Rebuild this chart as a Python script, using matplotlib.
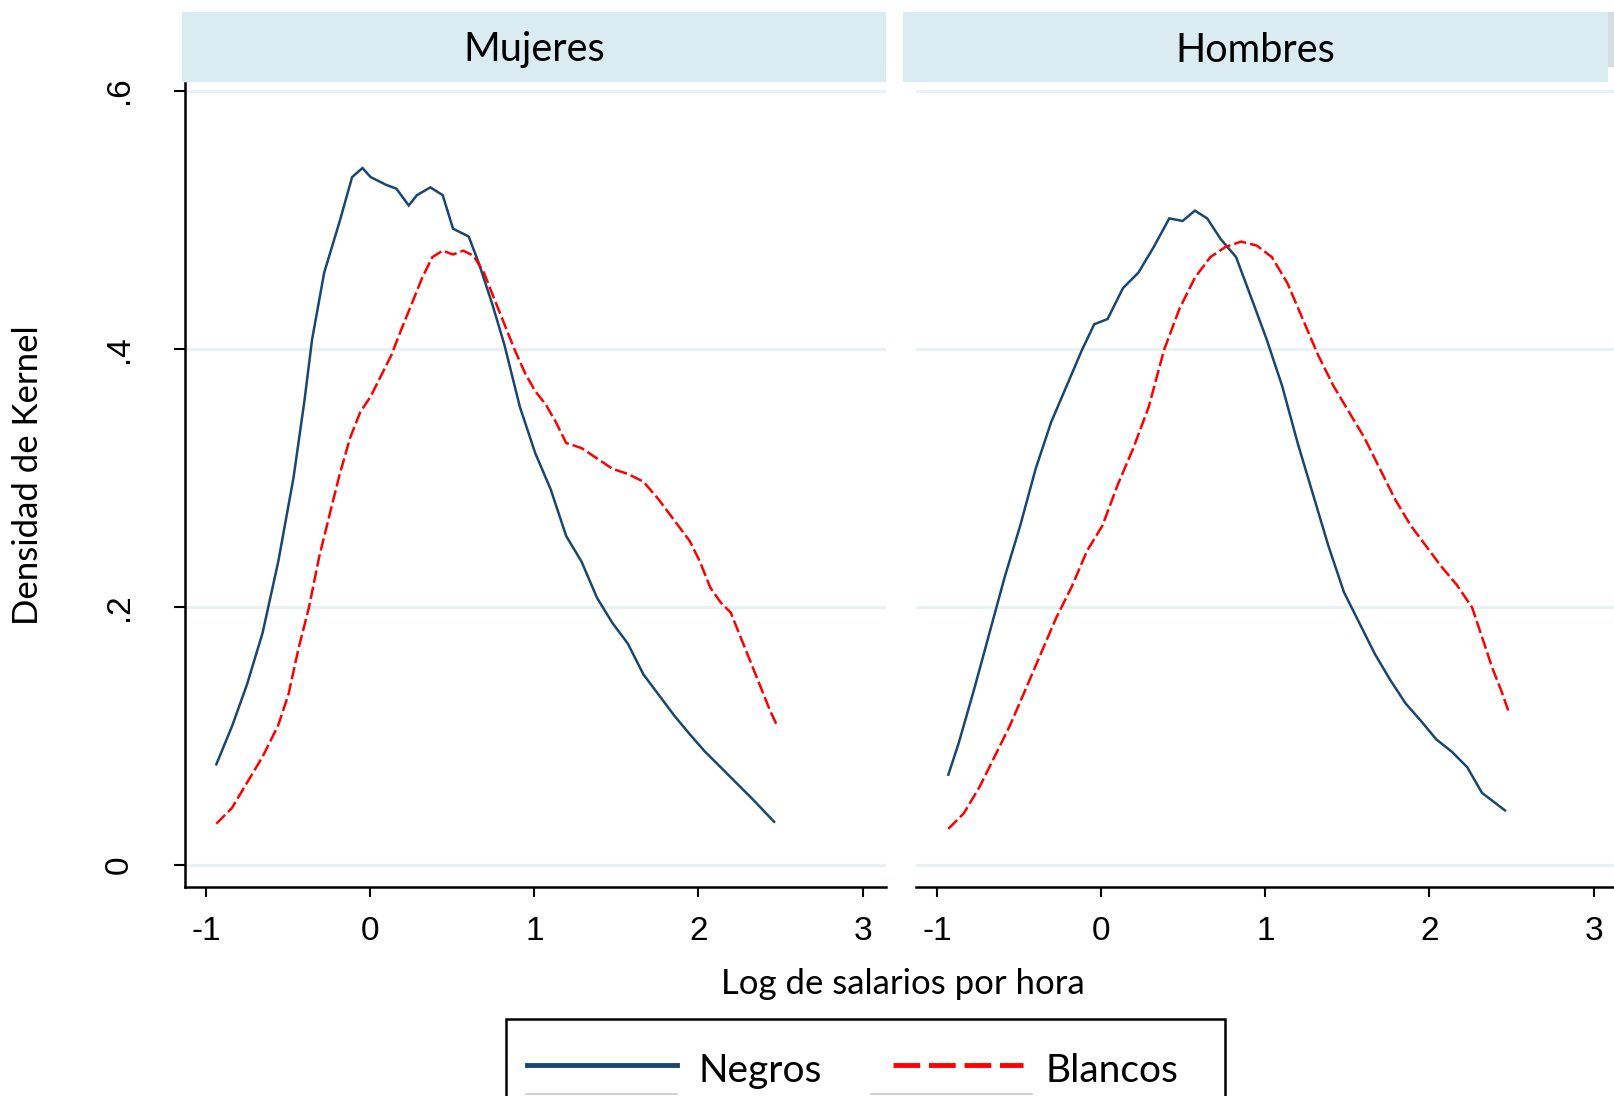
import matplotlib
matplotlib.use("Agg")
import matplotlib.pyplot as plt
from matplotlib.lines import Line2D
from matplotlib.patches import Rectangle
from matplotlib.legend_handler import HandlerLine2D

W, H = 1614, 1096

panels = ["Mujeres", "Hombres"]
series = ["Negros", "Blancos"]
x_ticks = [-1, 0, 1, 2, 3]
x_tick_labels = ["-1", "0", "1", "2", "3"]
y_ticks = [0, 0.2, 0.4, 0.6]
y_tick_labels = ["0", ".2", ".4", ".6"]

# Mujeres - Negros
muj_neg_x = [-0.937, -0.84, -0.75, -0.655, -0.56, -0.467, -0.40, -0.354, -0.28, -0.185,
             -0.11, -0.047, 0.003, 0.097, 0.16, 0.235, 0.285, 0.367, 0.442, 0.505, 0.60,
             0.66, 0.743, 0.818, 0.912, 1.006, 1.10, 1.194, 1.288, 1.382, 1.476, 1.57,
             1.665, 1.759, 1.853, 1.947, 2.04, 2.135, 2.229, 2.323, 2.461]
muj_neg_y = [0.078, 0.108, 0.14, 0.18, 0.235, 0.30, 0.36, 0.407, 0.459, 0.499,
             0.533, 0.540, 0.533, 0.527, 0.524, 0.511, 0.519, 0.525, 0.519, 0.493, 0.487,
             0.467, 0.435, 0.403, 0.355, 0.319, 0.291, 0.255, 0.235, 0.207, 0.1875, 0.1715,
             0.1476, 0.1317, 0.1157, 0.1013, 0.0878, 0.0758, 0.0638, 0.0519, 0.0335]

# Mujeres - Blancos
muj_bla_x = [-0.937, -0.843, -0.749, -0.655, -0.561, -0.498, -0.436, -0.373, -0.31, -0.248,
             -0.185, -0.122, -0.06, 0.003, 0.066, 0.129, 0.19, 0.254, 0.317, 0.379, 0.442,
             0.505, 0.567, 0.63, 0.693, 0.755, 0.818, 0.881, 0.944, 1.006, 1.069, 1.132,
             1.194, 1.288, 1.382, 1.476, 1.57, 1.665, 1.759, 1.853, 1.947, 2.009, 2.072,
             2.135, 2.197, 2.26, 2.323, 2.386, 2.436, 2.48]
muj_bla_y = [0.032, 0.044, 0.064, 0.084, 0.108, 0.132, 0.168, 0.1995, 0.239, 0.271,
             0.303, 0.331, 0.351, 0.363, 0.379, 0.395, 0.415, 0.435, 0.455, 0.471, 0.476,
             0.473, 0.476, 0.472, 0.459, 0.439, 0.419, 0.399, 0.381, 0.367, 0.357, 0.343,
             0.327, 0.323, 0.315, 0.307, 0.303, 0.297, 0.283, 0.267, 0.251, 0.235, 0.215,
             0.2035, 0.1955, 0.1755, 0.1556, 0.1356, 0.1197, 0.1077]

# Hombres - Negros
hom_neg_x = [-0.931, -0.869, -0.775, -0.681, -0.587, -0.493, -0.399, -0.305, -0.211, -0.117,
             -0.042, 0.039, 0.133, 0.227, 0.321, 0.415, 0.496, 0.571, 0.646, 0.728, 0.822,
             0.916, 1.009, 1.103, 1.197, 1.291, 1.385, 1.479, 1.573, 1.667, 1.76, 1.854,
             1.948, 2.042, 2.136, 2.23, 2.32, 2.46]
hom_neg_y = [0.070, 0.094, 0.1356, 0.1795, 0.2234, 0.263, 0.307, 0.343, 0.371, 0.399,
             0.419, 0.423, 0.447, 0.459, 0.479, 0.501, 0.499, 0.507, 0.501, 0.485, 0.471,
             0.439, 0.407, 0.371, 0.327, 0.287, 0.247, 0.2114, 0.1875, 0.1636, 0.1436, 0.1253,
             0.1117, 0.0973, 0.0878, 0.0758, 0.0559, 0.0423]

# Hombres - Blancos
hom_bla_x = [-0.931, -0.837, -0.743, -0.649, -0.556, -0.462, -0.368, -0.274, -0.18, -0.086,
             0.008, 0.102, 0.196, 0.29, 0.383, 0.477, 0.571, 0.665, 0.759, 0.853, 0.947,
             1.04, 1.134, 1.228, 1.322, 1.416, 1.51, 1.604, 1.698, 1.792, 1.886, 1.98,
             2.074, 2.167, 2.26, 2.323, 2.386, 2.436, 2.48]
hom_bla_y = [0.028, 0.040, 0.060, 0.084, 0.108, 0.1356, 0.1636, 0.1915, 0.2154, 0.2434,
             0.263, 0.295, 0.323, 0.355, 0.399, 0.431, 0.455, 0.471, 0.479, 0.483, 0.480,
             0.471, 0.451, 0.423, 0.395, 0.371, 0.351, 0.331, 0.307, 0.283, 0.263, 0.247,
             0.231, 0.217, 0.1995, 0.1755, 0.1516, 0.1356, 0.1197]

NAVY = "#1a476f"
RED = "#ff0000"
GRID = "#e9f1f3"
STRIP = "#daecf2"
TEXT_FONT = ["Lato", "DejaVu Sans"]
TICK_FONT = ["Liberation Sans", "DejaVu Sans"]

fig = plt.figure(figsize=(W / 100, H / 100), dpi=100)
fig.patch.set_facecolor("white")


def fx(px):
    return px / W


def fy(py):
    return 1 - py / H


ax_top, ax_bot = 83, 887
ax_w = 701
axes = [
    fig.add_axes([fx(185), fy(ax_bot), ax_w / W, (ax_bot - ax_top) / H]),
    fig.add_axes([fx(916), fy(ax_bot), ax_w / W, (ax_bot - ax_top) / H]),
]

data = {
    "Mujeres": [(muj_neg_x, muj_neg_y), (muj_bla_x, muj_bla_y)],
    "Hombres": [(hom_neg_x, hom_neg_y), (hom_bla_x, hom_bla_y)],
}

for i, (ax, name) in enumerate(zip(axes, panels)):
    (nx, ny), (bx, by) = data[name]
    ax.plot(nx, ny, color=NAVY, lw=1.8, solid_joinstyle="miter")
    ax.plot(bx, by, color=RED, lw=1.8, dashes=(5, 1.6))
    ax.set_xlim(-1.128, 3.1426)
    ax.set_ylim(-0.01705, 0.6059)
    ax.set_yticks(y_ticks)
    ax.set_xticks(x_ticks)
    ax.set_xticklabels(x_tick_labels, fontsize=24, family=TICK_FONT)
    ax.yaxis.grid(True, color=GRID, lw=2.3)
    ax.set_axisbelow(True)
    for s in ["top", "right"]:
        ax.spines[s].set_visible(False)
    ax.spines["bottom"].set_linewidth(1.8)
    ax.spines["left"].set_linewidth(1.8)
    ax.tick_params(axis="x", length=7, width=1.5, pad=14)
    if i == 0:
        ax.set_yticklabels(y_tick_labels, fontsize=24, family=TICK_FONT,
                           rotation=90, va="center")
        ax.tick_params(axis="y", length=8, width=1.5, pad=28)
    else:
        ax.spines["left"].set_visible(False)
        ax.tick_params(axis="y", left=False, labelleft=False)

# strips
strips = [(182, 886, "Mujeres"), (903, 1608, "Hombres")]
for x0, x1, label in strips:
    fig.patches.append(Rectangle((fx(x0), fy(82)), (x1 - x0) / W, 70 / H,
                                 transform=fig.transFigure, facecolor=STRIP,
                                 edgecolor="none", zorder=0))
    fig.text(fx((x0 + x1) / 2), fy(50), label, ha="center", va="center",
             fontsize=28.5, family=TEXT_FONT)
fig.patches.append(Rectangle((fx(1608), fy(67)), 6 / W, 55 / H,
                             transform=fig.transFigure, facecolor="#d3dde3",
                             edgecolor="none", zorder=0))

fig.text(fx(903), fy(984), "Log de salarios por hora", ha="center", va="center",
         fontsize=25, family=TEXT_FONT)
fig.text(fx(28), fy(475), "Densidad de Kernel", ha="center", va="center",
         rotation=90, fontsize=25, family=TEXT_FONT)


class ShiftedShortHandler(HandlerLine2D):
    """Draws the key shorter and right-aligned within its slot."""

    def __init__(self, frac, **kw):
        super().__init__(**kw)
        self.frac = frac

    def create_artists(self, legend, orig_handle, xdescent, ydescent, width,
                       height, fontsize, trans):
        new_w = width * self.frac
        shift = width - new_w
        return super().create_artists(legend, orig_handle, xdescent - shift,
                                      ydescent, new_w, height, fontsize, trans)


# legend box (frame drawn separately so its width matches the reference)
fig.patches.append(Rectangle((fx(506), fy(1120)), (1225 - 506) / W, (1120 - 1019) / H,
                             transform=fig.transFigure, facecolor="white",
                             edgecolor="black", lw=1.8, zorder=4))

FS_LEG = 28
em = FS_LEG * 100 / 72.0
h_neg = Line2D([], [], color=NAVY, lw=3.5)
h_bla = Line2D([], [], color=RED, lw=3.5, dashes=(5.5, 1.8))
leg = fig.legend([h_neg, h_bla], series, loc="upper left",
                 bbox_to_anchor=(fx(506), fy(1026)), ncol=2, frameon=False,
                 prop={"family": TEXT_FONT, "size": FS_LEG},
                 handlelength=150 / em, handleheight=1.4,
                 handletextpad=22 / em, columnspacing=51 / em,
                 borderpad=21 / em, borderaxespad=0,
                 handler_map={h_bla: ShiftedShortHandler(130 / 150)})
leg.set_zorder(6)

# faint shadow lines under the legend keys (as in the reference export)
for x0, x1 in [(526, 677), (871, 1032)]:
    fig.add_artist(Line2D([fx(x0), fx(x1)], [fy(1094), fy(1094)],
                          transform=fig.transFigure, color="#c8c8c8", lw=1.2,
                          zorder=7))

fig.savefig("out.png", dpi=100)
